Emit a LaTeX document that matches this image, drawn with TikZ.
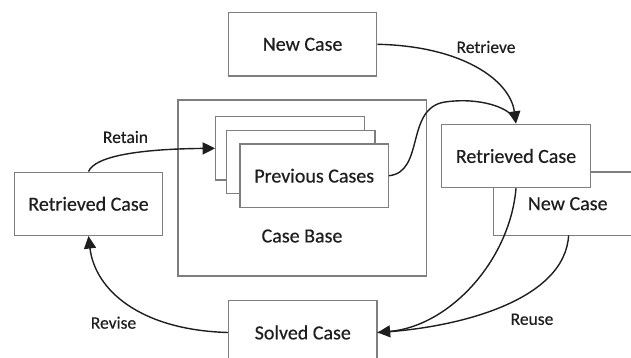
\documentclass[tikz,border=0pt]{standalone}
\usepackage{fontspec}
\setmainfont{Carlito}
\newfontfamily\boxfont{Carlito}[UprightFeatures={FakeBold=0.4}]
\usetikzlibrary{arrows.meta}
\definecolor{boxgray}{HTML}{7E7E7E}
\definecolor{inkgray}{HTML}{1E1E1E}
\begin{document}
\begin{tikzpicture}[x=1pt,y=-1pt,
  casebox/.style={draw=boxgray, line width=1.2pt, fill=white,
    minimum width=148.5pt, minimum height=63.3pt, inner sep=0pt,
    font=\boxfont\fontsize{20}{22}\selectfont, text=inkgray},
  flow/.style={draw=inkgray, line width=1.4pt},
  tip/.style={-{Triangle[length=12.5pt,width=12pt]}},
  steplabel/.style={font=\boxfont\fontsize{17.5}{19}\selectfont, text=inkgray, inner sep=0pt}]
  \useasboundingbox (0,0) rectangle (631,358);
  \clip (0,0) rectangle (631,358);

  % case base with the stacked previous cases
  \node[casebox, minimum width=248.5pt, minimum height=176pt] (cb) at (302.3,188) {};
  \node[casebox] (pc1) at (290,148.3) {};
  \node[casebox] (pc2) at (300.8,162) {};
  \node[casebox] (pc3) at (314.2,175.7) {Previous Cases};
  \node[casebox, draw=none, fill=none, minimum width=0pt, minimum height=0pt] (cbt) at (302,236) {Case Base};

  % cycle stages
  \node[casebox] (nc) at (302.6,44.3) {New Case};
  \node[casebox] (nc2) at (567.7,203.7) {New Case};
  \node[casebox] (rc) at (516,156) {Retrieved Case};
  \node[casebox] (rl) at (88.5,203.8) {Retrieved Case};
  \node[casebox] (sc) at (302.8,332.5) {Solved Case};

  % connectors
  \draw[flow, tip] (nc.east) .. controls (462,46) and (510,80) .. (rc.north);
  \draw[flow, shorten >=8pt] (pc3.east) .. controls (425,172) and (405,108) .. (445,102)
        .. controls (480,97) and (508,108) .. (rc.north);
  \draw[flow, tip] (rl.north) .. controls (95,156) and (140,149) .. (pc1.west);
  \draw[flow, tip] (sc.west) .. controls (140,330) and (95,290) .. (rl.south);
  \draw[flow, tip] (rc.south) .. controls (510,260) and (450,326) .. (sc.east);
  \draw[flow] (568.6,235.3) coordinate (ncb) .. controls (565,300) and (460,328) .. (sc.east);

  % step labels
  \node[steplabel] (lretrieve) at (486,47) {Retrieve};
  \node[steplabel] (lretain) at (125.5,137) {Retain};
  \node[steplabel] (lrevise) at (113.5,322.7) {Revise};
  \node[steplabel] (lreuse) at (532,319.3) {Reuse};
\end{tikzpicture}
\end{document}
